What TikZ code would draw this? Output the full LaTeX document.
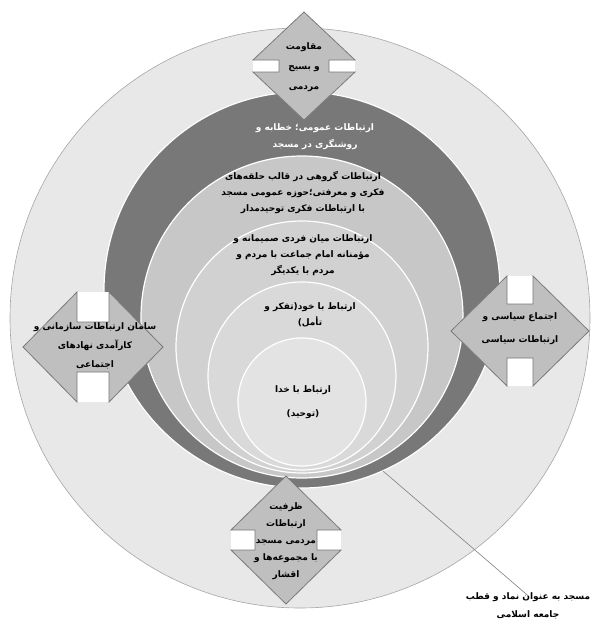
\documentclass[tikz,border=0pt]{standalone}
\usepackage{fontspec}
\newfontfamily\fa[Script=Arabic]{DejaVu Sans}
\TeXXeTstate=1

\definecolor{outerfill}{gray}{0.91}
\definecolor{darkfill}{gray}{0.47}
\definecolor{ringa}{gray}{0.78}
\definecolor{ringb}{gray}{0.82}
\definecolor{ringc}{gray}{0.85}
\definecolor{ringd}{gray}{0.89}
\definecolor{arrowfill}{gray}{0.75}
\definecolor{arrowline}{gray}{0.48}

\tikzstyle{ring} = [circle, draw=white, line width=1.2pt, inner sep=0pt]
\tikzstyle{arrowbox} = [draw=arrowline, fill=arrowfill, line width=0.8pt, line join=miter]
\tikzstyle{lbl} = [align=center, inner sep=0pt, font=\fa\bfseries\fontsize{9}{16}\selectfont]
\tikzstyle{leader} = [draw=gray, line width=0.6pt]

\newcommand{\rl}[1]{\beginR #1\endR}
% half length, half notch, head half width, shaft half width
\newcommand{\quadarrow}[4]{%
  \fill[white] (-#2,-#3) rectangle (#2,#3);
  \draw[arrowbox] (-#1,0) -- (-#2,#3) -- (-#2,#4) -- (#2,#4) -- (#2,#3) -- (#1,0)
    -- (#2,-#3) -- (#2,-#4) -- (-#2,-#4) -- (-#2,-#3) -- cycle;}

\begin{document}
\begin{tikzpicture}[x=1pt, y=-1pt]

\useasboundingbox (0,0) rectangle (597,622);

\node (outer) [ring, fill=outerfill, draw=gray!70, line width=0.6pt, minimum size=580pt] at (300,318) {};
\node (dark) [ring, fill=darkfill, minimum size=396pt] at (302,290) {};
\node (group) [ring, fill=ringa, minimum size=322pt] at (302,317) {};
\node (inter) [ring, fill=ringb, minimum size=252pt] at (302,347) {};
\node (self) [ring, fill=ringc, minimum size=188pt] at (302,376) {};
\node (god) [ring, fill=ringd, minimum size=128pt] at (302,402) {};

\begin{scope}[shift={(304,66)}, rotate=90]
\quadarrow{54}{6}{51}{25}
\end{scope}
\begin{scope}[shift={(93,347)}]
\quadarrow{70}{16}{55}{25}
\end{scope}
\begin{scope}[shift={(520,331)}]
\quadarrow{69}{13}{55}{27}
\end{scope}
\begin{scope}[shift={(286,540)}, rotate=90]
\quadarrow{64}{10}{55}{31}
\end{scope}

\node (resist) [lbl, font=\fa\bfseries\fontsize{9}{20}\selectfont] at (304,67) {\rl{مقاومت}\\\rl{و بسیج}\\\rl{مردمی}};
\node (public) [lbl, text=white, font=\fa\bfseries\fontsize{9}{17}\selectfont] at (315,137) {\rl{ارتباطات عمومی؛ خطابه و}\\\rl{روشنگری در مسجد}};
\node (groupt) [lbl] at (303,192) {\rl{ارتباطات گروهی در قالب حلقه‌های}\\\rl{فکری و معرفتی؛حوزه عمومی مسجد}\\\rl{با ارتباطات فکری توحیدمدار}};
\node (intert) [lbl] at (303,255) {\rl{ارتباطات میان فردی صمیمانه و}\\\rl{مؤمنانه امام جماعت با مردم و}\\\rl{مردم با یکدیگر}};
\node (selft) [lbl] at (310,315) {\rl{ارتباط با خود(تفکر و}\\\rl{تأمل)}};
\node (godt) [lbl] at (303,402) {\rl{ارتباط با خدا}\\[8pt]\rl{(توحید)}};
\node (organ) [lbl, font=\fa\bfseries\fontsize{9}{19}\selectfont] at (95,346) {\rl{سامان ارتباطات سازمانی و}\\\rl{کارآمدی نهادهای}\\\rl{اجتماعی}};
\node (polit) [lbl, font=\fa\bfseries\fontsize{9}{23}\selectfont] at (520,329) {\rl{اجتماع سیاسی و}\\\rl{ارتباطات سیاسی}};
\node (capac) [lbl, font=\fa\bfseries\fontsize{9}{17}\selectfont] at (286,541) {\rl{ظرفیت}\\\rl{ارتباطات}\\\rl{مردمی مسجد}\\\rl{با مجموعه‌ها و}\\\rl{اقشار}};
\node (mosque) [lbl, font=\fa\bfseries\fontsize{9}{18}\selectfont] at (528,606) {\rl{مسجد به عنوان نماد و قطب}\\\rl{جامعه اسلامی}};

\coordinate (tip) at (383,471);
\draw [leader] (tip) -- ([yshift=-3pt]mosque.north);

\end{tikzpicture}
\end{document}
